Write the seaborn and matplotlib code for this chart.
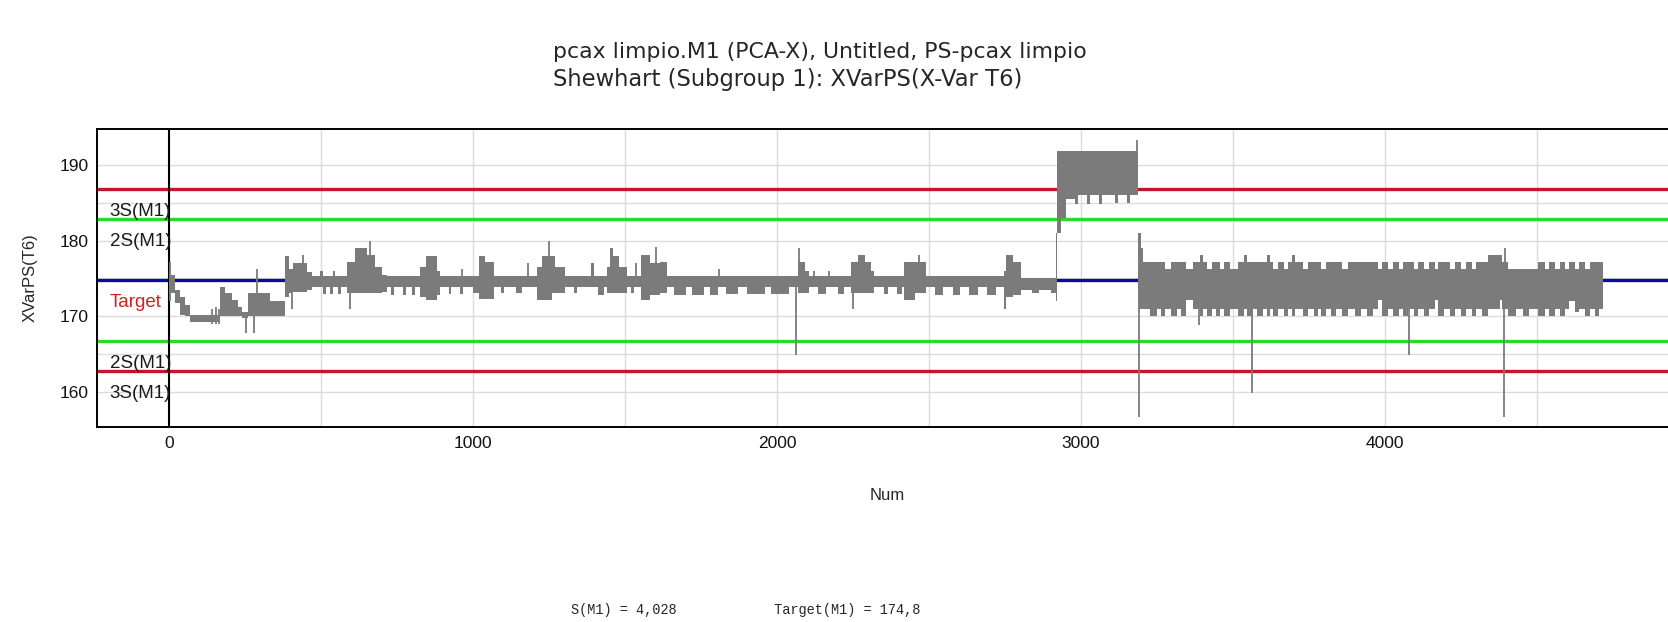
import numpy as np
import pandas as pd
import matplotlib
matplotlib.use("Agg")
import matplotlib.pyplot as plt
import seaborn as sns

# ---- control chart statistics (model M1) ----
target = 174.8
s_value = 4.028

# ---- XVarPS(T6) trace, stored as step segments: start Num, min and max within segment ----
seg_num = [
    0, 19, 35, 50, 68, 167, 183, 205, 227, 238, 260, 332, 381, 392, 408, 452,
    470, 497, 505, 515, 530, 538, 545, 555, 565, 584, 610, 650, 675, 700, 716,
    730, 740, 770, 778, 800, 808, 826, 845, 880, 892, 920, 928, 955, 965, 1000,
    1018, 1040, 1067, 1090, 1100, 1140, 1160, 1210, 1225, 1260, 1270, 1303, 1330,
    1340, 1386, 1397, 1410, 1430, 1441, 1450, 1460, 1480, 1506, 1520, 1530, 1551,
    1580, 1615, 1639, 1660, 1700, 1720, 1760, 1780, 1804, 1830, 1870, 1900, 1960,
    1980, 2040, 2067, 2090, 2105, 2133, 2160, 2200, 2220, 2243, 2265, 2290, 2310,
    2320, 2350, 2365, 2395, 2410, 2418, 2455, 2490, 2520, 2545, 2580, 2600, 2630,
    2660, 2690, 2720, 2748, 2752, 2775, 2803, 2840, 2860, 2900, 2918, 2922, 2935,
    2950, 2980, 2990, 3020, 3030, 3060, 3070, 3110, 3120, 3150, 3160, 3187, 3196,
    3205, 3228, 3250, 3262, 3275, 3295, 3315, 3328, 3346, 3368, 3390, 3400, 3415,
    3430, 3445, 3458, 3470, 3489, 3516, 3535, 3545, 3565, 3580, 3600, 3612, 3622,
    3632, 3648, 3668, 3682, 3695, 3705, 3730, 3747, 3765, 3780, 3791, 3807, 3822,
    3840, 3857, 3879, 3900, 3920, 3940, 3960, 3977, 3990, 4010, 4025, 4045, 4060,
    4075, 4095, 4110, 4130, 4145, 4165, 4175, 4195, 4215, 4230, 4250, 4265, 4285,
    4300, 4318, 4340, 4378, 4385, 4406, 4430, 4455, 4475, 4504, 4526, 4540, 4559,
    4575, 4592, 4605, 4625, 4640, 4658, 4675, 4690, 4705,
]
seg_low = [
    173.0, 171.8, 170.2, 170.0, 169.2, 170.0, 170.0, 170.0, 170.0, 169.8, 170.0,
    170.0, 172.5, 173.0, 173.2, 173.5,
    173.8, 173.8, 172.9, 173.8, 172.9, 173.8, 173.8, 172.9, 173.8, 173.0, 173.0,
    173.0, 173.0, 173.2, 173.8,
    172.8, 173.8, 172.8, 173.8, 172.8, 173.8, 172.5, 172.1, 172.8, 173.8, 172.9,
    173.8, 172.9, 173.8, 173.0,
    172.3, 172.3, 173.8, 173.0, 173.8, 173.0, 173.8, 172.1, 172.1, 173.0, 173.0,
    173.8, 173.0,
    173.8, 173.8, 173.8, 172.8, 173.8, 173.0, 173.0, 173.0, 173.0, 173.8, 173.0,
    173.8, 172.1,
    172.8, 173.0, 173.8, 172.8, 173.8, 172.8, 173.8, 172.8, 173.8, 172.9, 173.8,
    172.9, 173.8,
    172.9, 173.8, 173.0, 173.0, 173.8, 172.9, 173.8, 172.9, 173.8, 173.0, 173.0,
    173.0, 173.0,
    173.8, 172.9, 173.8, 172.9, 173.8, 172.1, 173.0, 173.8, 172.8, 173.8, 172.8,
    173.8, 172.8,
    173.8, 172.8, 173.8, 171.0, 172.5, 172.8, 173.5, 173.0, 173.5, 173.0, 172.0,
    181.0, 183.0,
    185.5, 184.8, 186.0, 184.8, 186.0, 184.8, 186.0, 185.0, 186.0, 185.0, 186.0,
    171.0, 171.0,
    171.0, 170.0, 171.0, 170.0, 171.0, 170.0, 171.0, 170.0, 172.1, 171.0, 170.0,
    171.0, 170.0,
    171.0, 170.0, 171.0, 170.0, 171.0, 170.0, 171.0, 170.0, 171.0, 170.0, 171.0,
    170.0, 171.0,
    170.0, 171.0, 170.0, 171.0, 170.0, 171.0, 170.0, 171.0, 170.0, 171.0, 170.0,
    171.0, 170.0,
    171.0, 170.0, 171.0, 170.0, 171.0, 170.0, 171.0, 172.1, 170.0, 171.0, 170.0,
    171.0, 170.0,
    171.0, 170.0, 171.0, 170.0, 171.0, 172.1, 170.0, 171.0, 170.0, 171.0, 170.0,
    171.0, 170.0,
    171.0, 170.0, 171.0, 172.1, 171.0, 170.0, 171.0, 170.0, 171.0, 170.0, 171.0,
    170.0, 171.0,
    170.0, 171.0, 172.0, 170.5, 171.0, 170.0, 171.0, 170.0, 171.0,
]
seg_high = [
    175.5, 173.5, 172.5, 171.5, 170.2, 173.9, 173.0, 172.1, 171.2, 170.5, 173.0,
    172.0, 178.0, 176.2, 177.0, 175.8,
    175.3, 176.0, 175.3, 175.3, 175.3, 176.0, 175.3, 175.3, 175.3, 177.2, 179.0,
    178.1, 176.5, 175.5, 175.3,
    175.3, 175.3, 175.3, 175.3, 175.3, 175.3, 176.5, 177.9, 176.0, 175.3, 175.3,
    175.3, 175.3, 175.3, 175.3,
    178.0, 177.2, 175.3, 175.3, 175.3, 175.3, 175.3, 176.5, 178.0, 178.0, 176.5,
    175.3, 175.3,
    175.3, 177.0, 175.3, 175.3, 175.3, 176.5, 179.0, 178.0, 176.5, 175.3, 175.3,
    175.3, 178.1,
    177.0, 177.2, 175.3, 175.3, 175.3, 175.3, 175.3, 175.3, 175.3, 175.3, 175.3,
    175.3, 175.3,
    175.3, 175.3, 177.2, 176.0, 175.3, 175.3, 175.3, 175.3, 175.3, 177.2, 178.1,
    177.2, 176.0,
    175.3, 175.3, 175.3, 175.3, 175.3, 177.2, 177.2, 175.3, 175.3, 175.3, 175.3,
    175.3, 175.3,
    175.3, 175.3, 175.3, 176.0, 178.1, 177.2, 175.0, 175.0, 175.0, 175.0, 181.0,
    191.8, 191.8,
    191.8, 191.8, 191.8, 191.8, 191.8, 191.8, 191.8, 191.8, 191.8, 191.8, 191.8,
    181.0, 179.0,
    177.2, 177.2, 177.2, 177.2, 176.2, 177.2, 177.2, 177.2, 176.2, 177.2, 178.1,
    177.2, 176.2,
    177.2, 177.2, 176.2, 177.2, 176.2, 177.2, 178.1, 177.2, 177.2, 177.2, 177.2,
    178.1, 177.2,
    176.2, 177.2, 176.2, 177.2, 178.1, 177.2, 176.2, 177.2, 177.2, 177.2, 176.2,
    177.2, 177.2,
    177.2, 176.2, 177.2, 177.2, 177.2, 177.2, 177.2, 176.2, 177.2, 176.2, 177.2,
    176.2, 177.2,
    177.2, 176.2, 177.2, 176.2, 177.2, 176.2, 177.2, 177.2, 176.2, 177.2, 176.2,
    177.2, 176.2,
    177.2, 177.2, 178.1, 178.1, 177.2, 176.2, 176.2, 176.2, 176.2, 177.2, 176.2,
    177.2, 176.2,
    177.2, 176.2, 177.2, 176.2, 177.2, 176.2, 177.2, 177.2, 177.2,
]
last_num = 4719

# isolated single-observation excursions
spike_num = [3, 140, 152, 164, 253, 280, 288, 403, 439, 595, 661, 963, 1180, 1248,
             1535, 1600, 1809, 2063, 2073, 2122, 2172, 2248, 2468, 3185, 3190,
             3387, 3564, 4080, 4390, 4395]
spike_low = [172.0, 169.0, 169.0, 169.0, 167.8, 167.8, 172.0, 171.0, 174.0, 171.0,
             176.0, 174.0, 174.0, 176.0, 174.0, 176.0, 174.0, 164.9, 175.0, 174.0,
             174.0, 171.0, 176.0, 186.0, 156.7, 168.8, 159.8, 164.9, 156.7, 177.0]
spike_high = [177.2, 171.0, 171.2, 171.0, 170.0, 170.0, 176.2, 174.0, 178.1, 174.0,
              180.0, 176.3, 177.0, 180.0, 177.0, 179.2, 176.3, 174.0, 179.0, 176.0,
              176.0, 174.0, 178.1, 193.3, 180.0, 171.0, 171.0, 171.0, 171.0, 179.0]

x_ticks = [0, 1000, 2000, 3000, 4000]
y_ticks = [160, 170, 180, 190]

# control limits derived from target and S
limits = {
    "3S(M1)": [target + 3 * s_value, target - 3 * s_value],
    "2S(M1)": [target + 2 * s_value, target - 2 * s_value],
}

sns.set_theme(style="white")
plt.rcParams["font.family"] = ["Liberation Sans", "DejaVu Sans"]

trace_gray = "#7b7b7b"
red = "#c8142a"
green = "#24dc24"
blue = "#0a0a9c"

fig = plt.figure(figsize=(16.68, 6.22), dpi=100)
ax = fig.add_axes([0.058, 0.314, 0.9445, 0.478])

# background grid
for xv in range(0, 5000, 500):
    ax.axvline(xv, color="#dcdcdc", lw=1.0, zorder=0)
for yv in range(160, 195, 5):
    ax.axhline(yv, color="#dcdcdc", lw=1.0, zorder=0)

# control limit lines and target
for lvl in limits["3S(M1)"]:
    ax.axhline(lvl, color=red, lw=2.4, zorder=1)
for lvl in limits["2S(M1)"]:
    ax.axhline(lvl, color=green, lw=2.4, zorder=1)
ax.axhline(target, color=blue, lw=2.4, zorder=1)
ax.axvline(0, color="black", lw=1.5, zorder=2)

# band of the trace: min/max of each segment drawn as a stepped band
nums = seg_num + [last_num]
lows = seg_low + [seg_low[-1]]
highs = seg_high + [seg_high[-1]]
band = pd.DataFrame({"Num": nums + nums, "XVarPS": lows + highs})
sns.lineplot(data=band, x="Num", y="XVarPS", estimator="mean",
             errorbar=("pi", 100), color=trace_gray, linewidth=0,
             err_kws=dict(alpha=1, step="post", linewidth=0, zorder=3),
             ax=ax)
ax.vlines(spike_num, spike_low, spike_high, color=trace_gray, lw=1.3, zorder=3)

# limit labels
lab_x = -197
for lvl in limits["3S(M1)"]:
    ax.text(lab_x, lvl - 3.0, "3S(M1)", color="#1a1a1a", fontsize=13.5,
            va="center", ha="left", zorder=4)
for lvl in limits["2S(M1)"]:
    ax.text(lab_x, lvl - 3.0, "2S(M1)", color="#1a1a1a", fontsize=13.5,
            va="center", ha="left", zorder=4)
ax.text(lab_x, target - 3.0, "Target", color="#cc2222", fontsize=13.5,
        va="center", ha="left", zorder=4)

ax.set_xlim(-239, 4945)
ax.set_ylim(155.37, 194.72)
ax.set_xticks(x_ticks)
ax.set_xticks(range(500, 5000, 1000), minor=True)
ax.set_yticks(y_ticks)
ax.set_yticks([165, 175, 185], minor=True)
ax.tick_params(which="both", direction="inout", length=9, width=1.3,
               color="black", labelsize=12.5, pad=1, labelcolor="#111111")
ax.tick_params(axis="x", which="major", pad=2.5)
for side in ["left", "bottom", "top", "right"]:
    ax.spines[side].set_color("black")
    ax.spines[side].set_linewidth(1.4)

ax.set_xlabel("Num", fontsize=12)
ax.set_ylabel("XVarPS(T6)", fontsize=12)
ax.xaxis.label.set_va("center")
ax.yaxis.label.set_va("center")
ax.xaxis.set_label_coords(0.5017, -0.233)
ax.yaxis.set_label_coords(-0.0423, 0.5)

title_font = ["DejaVu Sans"]
fig.text(0.3315, 0.916, "pcax limpio.M1 (PCA-X), Untitled, PS-pcax limpio",
         fontsize=15.8, ha="left", va="center", family=title_font)
fig.text(0.3315, 0.872, "Shewhart (Subgroup 1): XVarPS(X-Var T6)",
         fontsize=16.3, ha="left", va="center", family=title_font)
fig.text(0.3423, 0.020, "S(M1) = 4,028            Target(M1) = 174,8",
         fontsize=9.8, ha="left", va="center", family="Liberation Mono")

fig.savefig("out.png", dpi=100)
